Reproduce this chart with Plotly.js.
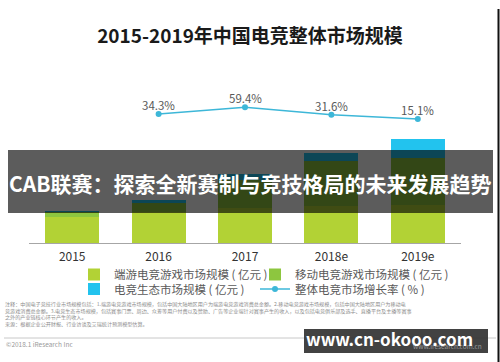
<!DOCTYPE html>
<html>
<head>
<meta charset="utf-8">
<script src="https://cdn.plot.ly/plotly-3.0.1.min.js"></script>
<style>html,body{margin:0;padding:0;background:#fff;}#chart{width:500px;height:362px;}</style>
</head>
<body>
<div id="chart"></div>
<script>
// ---- data ----
var years = ['2015', '2016', '2017', '2018e', '2019e'];
var pcGame = [250, 290, 330, 350, 360];        // 端游电竞游戏市场规模（亿元）
var mobileGame = [40, 87, 270, 425, 444];      // 移动电竞游戏市场规模（亿元）
var ecosystem = [14, 31, 50, 80, 180];         // 电竞生态市场规模（亿元）
var growthYears = ['2016', '2017', '2018e', '2019e'];
var growthRate = [34.3, 59.4, 31.6, 15.1];     // 整体电竞市场增长率（%）
var growthLabels = ['34.3%', '59.4%', '31.6%', '15.1%'];
var seriesNames = ['端游电竞游戏市场规模 ( 亿元 )', '移动电竞游戏市场规模 ( 亿元 )', '电竞生态市场规模 ( 亿元 )', '整体电竞市场增长率 ( % )'];

// ---- layout helpers (pixel -> paper) ----
var W = 500, H = 362, L = 29, R = 39, T = 95, B = 119;
var pw = W - L - R, ph = H - T - B;
function px(x) { return (x - L) / pw; }
function py(y) { return (H - B - y) / ph; }

var cjk = '"Noto Sans CJK SC", "Noto Sans", sans-serif';

var traces = [
  {type: 'bar', x: years, y: pcGame, name: seriesNames[0], marker: {color: '#b2d235'}, legend: 'legend', hoverinfo: 'skip'},
  {type: 'bar', x: years, y: mobileGame, name: seriesNames[1], marker: {color: '#8dc63f'}, legend: 'legend2', hoverinfo: 'skip'},
  {type: 'bar', x: years, y: ecosystem, name: seriesNames[2], marker: {color: '#22c3ee'}, legend: 'legend3', hoverinfo: 'skip'},
  {type: 'scatter', mode: 'lines+markers', x: growthYears, y: growthRate, yaxis: 'y2', name: seriesNames[3],
   line: {color: '#3db7d8', width: 1.5}, marker: {color: '#3db7d8', size: 6}, legend: 'legend4', cliponaxis: false, hoverinfo: 'skip'}
];

var footLines = [
  '注释：中国电子竞技行业市场规模包括：1.端游电竞游戏市场规模，包括中国大陆地区用户为端游电竞游戏消费总金额。2.移动电竞游戏市场规模，包括中国大陆地区用户为移动电',
  '竞游戏消费总金额。3.电竞生态市场规模，包括赛事门票、周边、众筹等用户付费以及赞助、广告等企业端针对赛事产生的收入，以及包括电竞俱乐部及选手、直播平台及主播等赛事',
  '之外的产业链核心环节产生的收入。',
  '来源：根据企业公开财报、行业访谈及艾瑞统计预测模型估算。'
];

var annotations = [];
// growth-rate labels placed at the data points through the axes (category index on x)
growthYears.forEach(function (yr, i) {
  annotations.push({xref: 'x', yref: 'y2', x: years.indexOf(yr), y: growthRate[i], yshift: 9, xanchor: 'center', yanchor: 'middle',
    text: growthLabels[i], showarrow: false, font: {size: 11.5, color: '#595959', family: cjk}});
});
annotations.push({xref: 'paper', yref: 'paper', x: px(4), y: py(299), xanchor: 'left', yanchor: 'top', align: 'left',
  text: footLines.join('<br>'), showarrow: false, borderpad: 0, font: {size: 5.1, color: '#8c8c8c', family: cjk}});
annotations.push({xref: 'paper', yref: 'paper', x: px(4), y: py(344), xanchor: 'left', yanchor: 'middle',
  text: '©2018.1 iResearch Inc', showarrow: false, font: {size: 6.5, color: '#9a9a9a', family: cjk}});
annotations.push({xref: 'paper', yref: 'paper', x: px(484), y: py(346), xanchor: 'right', yanchor: 'middle',
  text: 'www.iresearch.com.cn', showarrow: false, font: {size: 6.5, color: '#9a9a9a', family: cjk}});
// overlay banner text
annotations.push({xref: 'paper', yref: 'paper', x: px(250), y: py(183), xanchor: 'center', yanchor: 'middle',
  text: '<b>CAB联赛：探索全新赛制与竞技格局的未来发展趋势</b>', showarrow: false,
  font: {size: 21, color: '#ffffff', family: cjk}});
// watermark text
annotations.push({xref: 'paper', yref: 'paper', x: px(389), y: py(338), xanchor: 'center', yanchor: 'middle',
  text: '<b>www.cn-okooo.com</b>', showarrow: false, font: {size: 17, color: '#ffffff', family: cjk}});

var shapes = [
  {type: 'line', xref: 'paper', yref: 'paper', x0: px(4), x1: px(496), y0: py(338), y1: py(338), line: {color: '#c8c8c8', width: 1}},
  {type: 'rect', xref: 'paper', yref: 'paper', x0: px(8), x1: px(493), y0: py(150), y1: py(213), fillcolor: 'rgba(0,0,0,0.64)', line: {width: 0}},
  {type: 'rect', xref: 'paper', yref: 'paper', x0: px(304), x1: px(488), y0: py(329), y1: py(353), fillcolor: 'rgba(45,45,45,0.9)', line: {width: 0}},
  {type: 'line', xref: 'paper', yref: 'paper', x0: px(498.5), x1: px(498.5), y0: py(9), y1: py(362), line: {color: '#111111', width: 2}}
];

function legendAt(xPix, topPix) {
  return {orientation: 'h', xref: 'container', yref: 'container', x: xPix / W, y: 1 - topPix / H,
          xanchor: 'left', yanchor: 'top', bgcolor: 'rgba(0,0,0,0)',
          font: {size: 11.5, color: '#595959', family: cjk}};
}

var layout = {
  width: W, height: H,
  margin: {l: L, r: R, t: T, b: B, pad: 0},
  paper_bgcolor: '#ffffff', plot_bgcolor: 'rgba(0,0,0,0)',
  title: {text: '<b>2015-2019年中国电竞整体市场规模</b>', x: 0.5, xanchor: 'center', xref: 'container',
          y: 1 - 36 / H, yanchor: 'middle', yref: 'container',
          font: {size: 19, color: '#1a1a1a', family: cjk}},
  barmode: 'stack', bargap: 0.376,
  xaxis: {type: 'category', categoryorder: 'array', categoryarray: years, range: [-0.5, years.length - 0.5],
          showline: true, linecolor: '#a6a6a6', linewidth: 1, ticks: '', showgrid: false, zeroline: false,
          ticklabelstandoff: 3, tickfont: {size: 12, color: '#333333', family: cjk}, fixedrange: true},
  yaxis: {range: [0, 1400], visible: false, showgrid: false, zeroline: false, fixedrange: true},
  yaxis2: {overlaying: 'y', range: [-454.5, 106], visible: false, showgrid: false, zeroline: false, fixedrange: true},
  showlegend: true,
  legend: legendAt(74, 260),
  legend2: legendAt(255, 260),
  legend3: legendAt(74, 274.5),
  legend4: legendAt(255, 274.5),
  annotations: annotations,
  shapes: shapes
};

Plotly.newPlot('chart', traces, layout, {staticPlot: true, displayModeBar: false});
</script>
</body>
</html>
